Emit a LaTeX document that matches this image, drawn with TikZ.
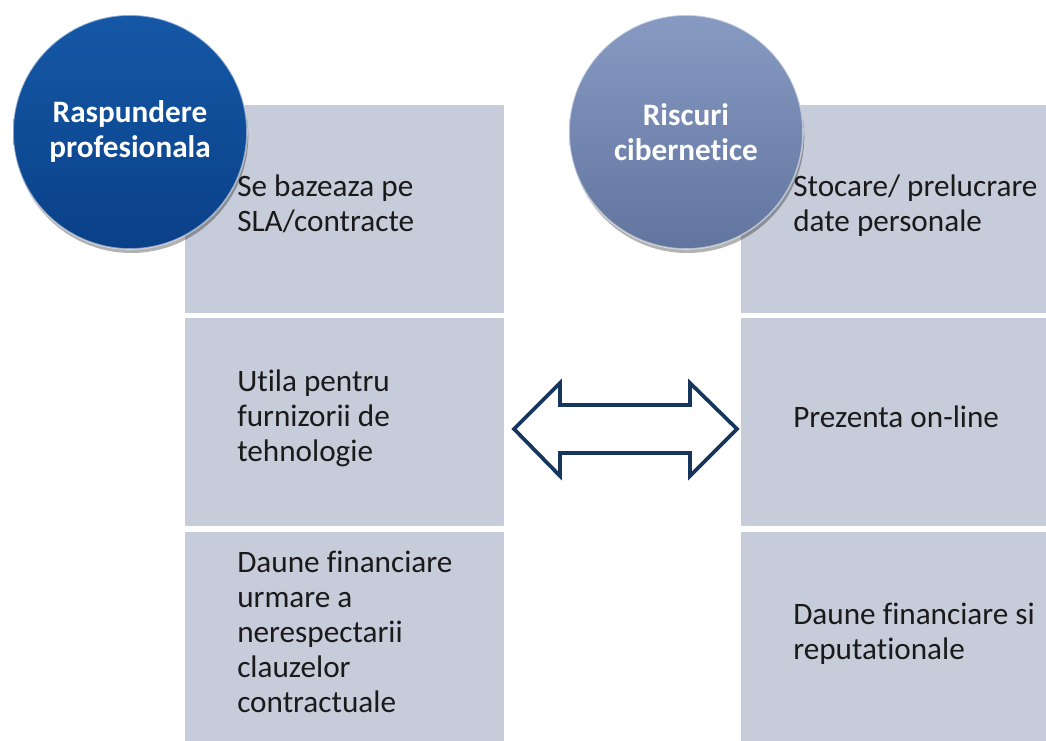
\documentclass[tikz,border=0pt]{standalone}
\usepackage{fontspec}
\setmainfont[Ligatures=NoCommon]{Carlito}
\usetikzlibrary{shadows}
\definecolor{cellfill}{HTML}{C7CCDA}
\definecolor{arrowcol}{HTML}{17365D}
\definecolor{textcol}{HTML}{1A1A1A}
\definecolor{bluetop}{HTML}{1558A6}
\definecolor{bluebot}{HTML}{0A4088}
\definecolor{greytop}{HTML}{879AC2}
\definecolor{greybot}{HTML}{62759F}
\newcommand\mylines[1]{\begin{tabular}[t]{@{}l@{}}#1\end{tabular}}
\tikzset{
  cell/.style={rectangle, fill=cellfill, draw=white, line width=2.5pt, inner sep=0pt},
  celltext/.style={anchor=base west, inner sep=0pt, text=textcol, font=\fontsize{23.4}{26.25}\selectfont},
  bubble/.style={circle, minimum size=175.5pt, inner sep=0pt, align=center, text=white,
    font=\fontsize{23.4}{26.25}\selectfont\bfseries, draw=white, draw opacity=0.5, line width=1.2pt,
    drop shadow={shadow xshift=1pt, shadow yshift=-3pt, opacity=0.3, fill=black}},
  arrowshape/.style={draw=arrowcol, line width=2.8pt, fill=white, line join=miter}
}
\begin{document}
\begin{tikzpicture}[x=0.75pt,y=-0.75pt]
\useasboundingbox (0,0) rectangle (1046,741);
\clip (0,0) rectangle (1046,741);
% left column
\node[cell, minimum width=323*0.75pt, minimum height=212*0.75pt] (l1) at (344.5,209) {};
\node[cell, minimum width=323*0.75pt, minimum height=212*0.75pt] (l2) at (344.5,422) {};
\node[cell, minimum width=323*0.75pt, minimum height=220*0.75pt] (l3) at (344.5,640) {};
% right column
\node[cell, minimum width=330*0.75pt, minimum height=212*0.75pt] (r1) at (904,209) {};
\node[cell, minimum width=330*0.75pt, minimum height=212*0.75pt] (r2) at (904,422) {};
\node[cell, minimum width=330*0.75pt, minimum height=220*0.75pt] (r3) at (904,640) {};
% texts
\node[celltext] (t1) at (237,196.7) {\mylines{Se bazeaza pe\\SLA/contracte}};
\node[celltext] (t2) at (237,392) {\mylines{Utila pentru\\furnizorii de\\tehnologie}};
\node[celltext] (t3) at (237,572.3) {\mylines{Daune financiare\\urmare a\\nerespectarii\\clauzelor\\contractuale}};
\node[celltext] (u1) at (793,196.7) {\mylines{Stocare/ prelucrare\\date personale}};
\node[celltext] (u2) at (793,427) {\mylines{Prezenta on-line}};
\node[celltext] (u3) at (793,624.5) {\mylines{Daune financiare si\\reputationale}};
% circles
\node[bubble, top color=bluetop, bottom color=bluebot] (c1) at (130,132) {Raspundere\\profesionala};
\node[bubble, top color=greytop, bottom color=greybot] (c2) at (686,132) {Riscuri\\cibernetice};
% double arrow
\coordinate (al) at (514,429);
\coordinate (ar) at (737,429);
\draw[arrowshape] (al) -- (560,383) -- (560,405) -- (690,405) -- (690,383) -- (ar)
  -- (690,476) -- (690,453) -- (560,453) -- (560,476) -- cycle;
\end{tikzpicture}
\end{document}
